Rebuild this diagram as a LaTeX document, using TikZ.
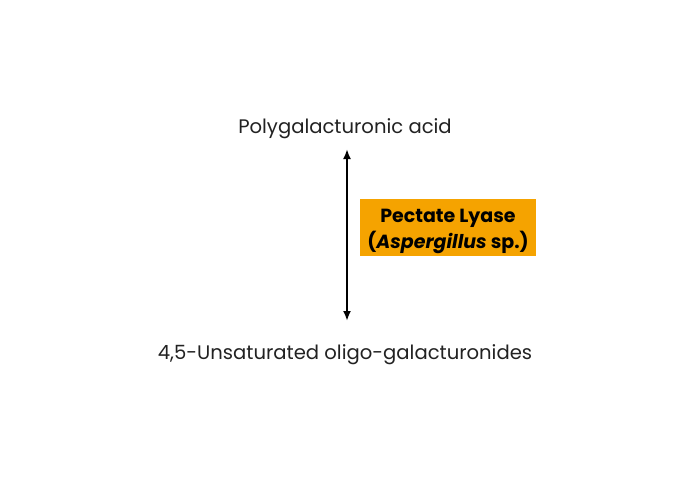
\documentclass[tikz,border=0pt]{standalone}
\usepackage{fontspec}
\setmainfont{Poppins}
\usepackage{tikz}
\usetikzlibrary{arrows}
\usetikzlibrary{arrows.meta}
\usetikzlibrary{positioning}
\definecolor{boxcolor}{HTML}{F5A300}
\definecolor{textcolor}{HTML}{222222}
\begin{document}
\begin{tikzpicture}[x=1pt,y=-1pt,font=\fontsize{19.6}{23}\selectfont]
\useasboundingbox (0,0) rectangle (690,480);
   \node [text=textcolor] (acid) at (345,128.5) {Polygalacturonic acid};
   \node [text=textcolor] (oligo) at (345,354.5) {4,5-Unsaturated oligo-galacturonides};
   \coordinate (top) at (347,149);
   \coordinate (bot) at (347,321);
   \draw [black,line width=2pt,{Latex[length=10pt,width=8pt]}-{Latex[length=10pt,width=8pt]}] (top) -- (bot);
   \node (lyase) [fill=boxcolor,minimum width=176pt,minimum height=57pt] at (448,227.5) {};
   \node (lyasetext) [align=center,font=\fontsize{19}{26}\selectfont\bfseries] at (448,231)
        {Pectate Lyase\\({\itshape Aspergillus} sp.)};
\end{tikzpicture}
\end{document}
